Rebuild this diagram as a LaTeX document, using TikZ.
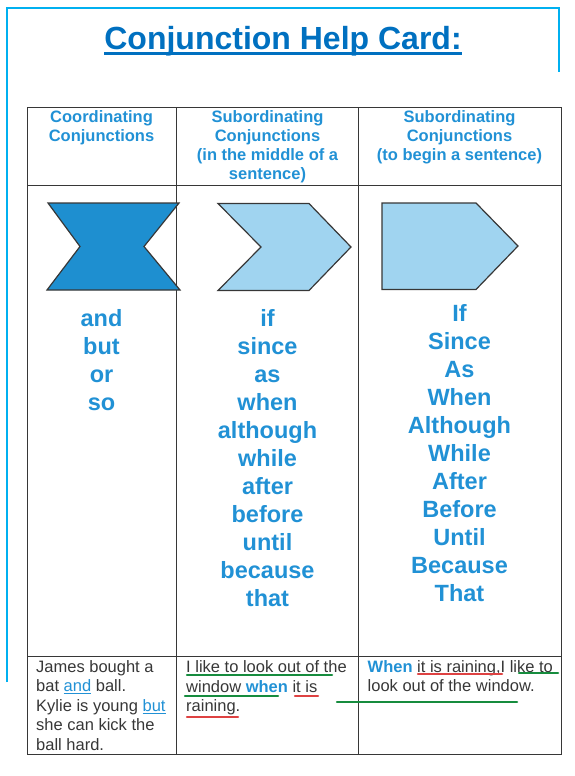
\documentclass[tikz,border=0pt]{standalone}
\usepackage{fontspec}
\setmainfont{Liberation Sans}

\definecolor{framecyan}{RGB}{0,176,240}
\definecolor{titleblue}{RGB}{0,112,192}
\definecolor{wordblue}{RGB}{33,145,213}
\definecolor{darkfill}{RGB}{30,143,208}
\definecolor{lightfill}{RGB}{160,212,240}
\definecolor{inkgray}{RGB}{55,55,55}
\definecolor{penred}{RGB}{222,66,66}
\definecolor{pengreen}{RGB}{22,140,62}

\begin{document}
\begin{tikzpicture}[x=1pt,y=-1pt]
        \useasboundingbox (0,0) rectangle (575,776);

        % frame and title
        \draw[framecyan, line width=2pt] (7,682) -- (7,8) -- (559,8) -- (559,72);
        \node[titleblue, anchor=base, inner sep=0, font=\fontsize{32}{38}\selectfont\bfseries] (title) at (283,49.5) {Conjunction Help Card:};
        \draw[titleblue, line width=3pt] ([yshift=-4.5pt]title.base west) -- ([yshift=-4.5pt]title.base east);

        % table
        \draw[inkgray, line width=1pt] (27,107) rectangle (561,754);
        \draw[inkgray, line width=1pt] (27,185) -- (561,185);
        \draw[inkgray, line width=1pt] (27,656) -- (561,656);
        \draw[inkgray, line width=1pt] (176.5,107) -- (176.5,754);
        \draw[inkgray, line width=1pt] (358.5,107) -- (358.5,754);

        % shapes
        \begin{scope}[every path/.style={draw=inkgray, line width=1.2pt, line join=miter}]
                \filldraw[fill=darkfill] (48,203) -- (179,203) -- (144,246.5) -- (180,290) -- (47,290) -- (80,246.5) -- cycle;
                \filldraw[fill=lightfill] (218,203.5) -- (309,203.5) -- (351,247) -- (309,290.5) -- (218,290.5) -- (261,247) -- cycle;
                \filldraw[fill=lightfill] (382,203) -- (476,203) -- (518,246) -- (476,289.5) -- (382,289.5) -- cycle;
        \end{scope}

        % headers and word lists
        \begin{scope}[every node/.style={wordblue, align=center, anchor=base, inner sep=0}]
                \node[font=\fontsize{16.5}{19}\selectfont\bfseries] (coordhead) at (101.5,141.7) {Coordinating\\Conjunctions};
                \node[font=\fontsize{16.5}{19}\selectfont\bfseries] (midhead) at (267.5,179.7) {Subordinating\\Conjunctions\\(in the middle of a\\sentence)};
                \node[font=\fontsize{16.5}{19}\selectfont\bfseries] (starthead) at (459.5,160.7) {Subordinating\\Conjunctions\\(to begin a sentence)};

                \node[font=\fontsize{23.5}{28}\selectfont\bfseries] (coordlist) at (101.5,410) {and\\but\\or\\so};
                \node[font=\fontsize{23.5}{28}\selectfont\bfseries] (midlist) at (267.5,606) {if\\since\\as\\when\\although\\while\\after\\before\\until\\because\\that};
                \node[font=\fontsize{23.5}{28}\selectfont\bfseries] (startlist) at (459.5,601.7) {If\\Since\\As\\When\\Although\\While\\After\\Before\\Until\\Because\\That};
        \end{scope}

        % examples
        \begin{scope}[every node/.style={inkgray, align=left, anchor=base west, inner sep=0, font=\fontsize{16.5}{19.4}\selectfont}]
                \node (coordex) at (36,750) {James bought a\\bat \textcolor{wordblue}{\underline{and}} ball.\\Kylie is young \textcolor{wordblue}{\underline{but}}\\she can kick the\\ball hard.};
                \node (midex) at (186,711.5) {I like to look out of the\\window \textcolor{wordblue}{\bfseries when} it is\\raining.};
                \node (startex) at (367.5,691.9) {\textcolor{wordblue}{\bfseries When} it is raining,I like to\\look out of the window.};
        \end{scope}

        % pen marks
        \begin{scope}[every path/.style={line width=2.5pt, line cap=round}]
                \draw[pengreen] (187,675) -- (332,675);
                \draw[pengreen] (185,696) -- (278,696);
                \draw[penred] (295,696) -- (318,696);
                \draw[penred] (187,717) -- (238,717);
                \draw[penred] (418,674) -- (502,674);
                \draw[pengreen] (519,673) -- (558,673);
                \draw[pengreen] (337,702) -- (517,702);
        \end{scope}
\end{tikzpicture}
\end{document}
